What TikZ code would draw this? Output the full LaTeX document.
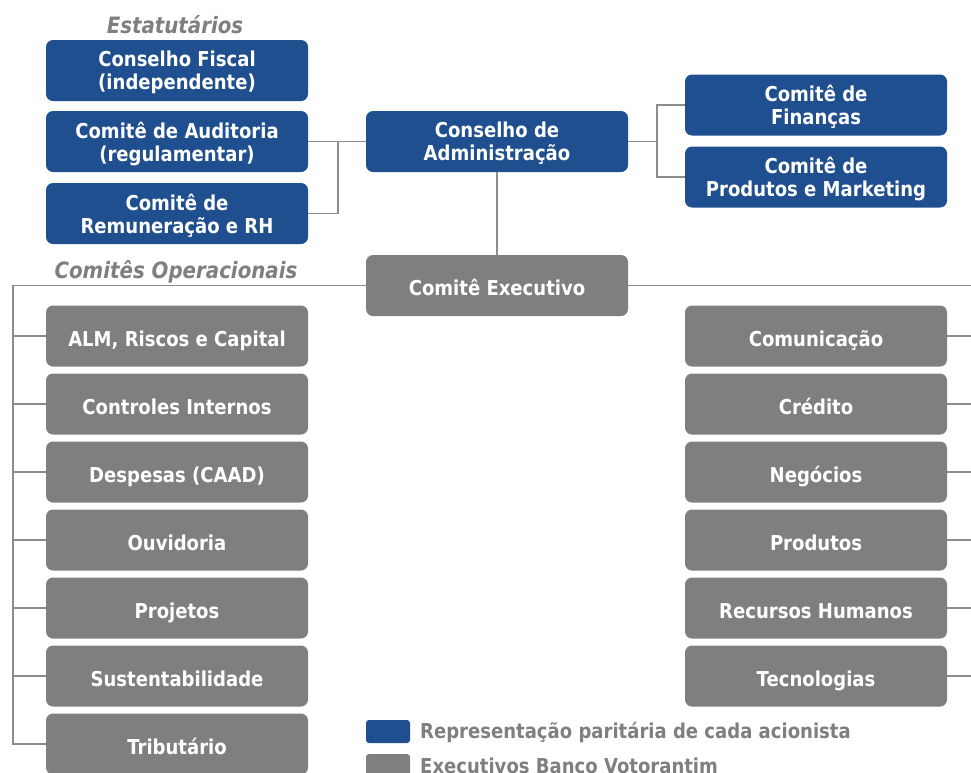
\documentclass[tikz,border=0pt]{standalone}
\usepackage{fontspec}
\setmainfont{DejaVu Sans}[FakeStretch=0.88]
\definecolor{vblue}{RGB}{31,79,142}
\definecolor{vgray}{RGB}{127,127,127}
\definecolor{vline}{RGB}{140,140,140}

\tikzset{
  orgbox/.style = {rectangle, rounded corners = 7pt, minimum width = 262pt, minimum height = 61pt,
                   inner sep = 0pt, text = white, align = center, text depth = 0pt,
                   font = \fontsize{20.5}{23}\selectfont\bfseries},
  bluebox/.style = {orgbox, fill = vblue},
  graybox/.style = {orgbox, fill = vgray, text height = 20pt},
  keybox/.style = {rectangle, rounded corners = 3pt, minimum width = 44pt, minimum height = 23pt, inner sep = 0pt},
  grouptitle/.style = {text = vgray, font = \fontsize{22.5}{26}\selectfont\bfseries\itshape},
  keytext/.style = {text = vgray, anchor = west, inner sep = 0pt, font = \fontsize{20.5}{23}\selectfont\bfseries},
  link/.style = {draw = vline, line width = 1.2pt}
}

\begin{document}
\begin{tikzpicture}[x = 1pt, y = -1pt]
	 \useasboundingbox (0, 0) rectangle (971, 772);

	 % estatutarios
	 \node[grouptitle] (tstat) at (175, 25) {Estatutários};
	 \node[bluebox] (fiscal) at (177, 70.5) {Conselho Fiscal\\(independente)};
	 \node[bluebox] (audit) at (177, 141.5) {Comitê de Auditoria\\(regulamentar)};
	 \node[bluebox] (remun) at (177, 213.5) {Comitê de\\Remuneração e RH};

	 \node[bluebox] (conselho) at (497, 141.5) {Conselho de\\Administração};

	 \node[bluebox] (financas) at (816, 105) {Comitê de\\Finanças};
	 \node[bluebox] (prodmkt) at (816, 177) {Comitê de\\Produtos e Marketing};

	 \node[graybox] (exec) at (497, 285.5) {Comitê Executivo};

	 % comites operacionais
	 \node[grouptitle] (toper) at (176, 272) {Comitês Operacionais};
	 \foreach \name [count = \i] in {{ALM, Riscos e Capital}, Controles Internos, Despesas (CAAD),
	                                 Ouvidoria, Projetos, Sustentabilidade, Tributário}
	 \node[graybox] (left\i) at (177, 268 + 68 * \i) {\name};
	 \foreach \name [count = \i] in {Comunicação, Crédito, Negócios, Produtos, Recursos Humanos, Tecnologias}
	 \node[graybox] (right\i) at (816, 268 + 68 * \i) {\name};

	 % ligacoes
	 \coordinate (lbranch) at (338, 141.5);
	 \coordinate (rbranch) at (657, 141.5);
	 \coordinate (lspine) at (13, 285.5);
	 \coordinate (rspine) at (990, 285.5);

	 \draw[link] (audit.east) -- (conselho.west);
	 \draw[link] (remun.east) -| (lbranch);
	 \draw[link] (conselho.east) -- (rbranch);
	 \draw[link] (financas.west) -| (rbranch) |- (prodmkt.west);
	 \draw[link] (conselho.south) -- (exec.north);

	 \draw[link] (exec.west) -- (lspine) |- (left7.west);
	 \foreach \i in {1, ..., 6}
	 \draw[link] (left\i.west) -- (left\i.west -| lspine);
	 \draw[link] (exec.east) -- (rspine) |- (right6.east);
	 \foreach \i in {1, ..., 5}
	 \draw[link] (right\i.east) -- (right\i.east -| rspine);

	 % legenda
	 \node[keybox, fill = vblue] (keyblue) at (388, 731.5) {};
	 \node[keytext] (txtblue) at (420, 732) {Representação paritária de cada acionista};
	 \node[keybox, fill = vgray] (keygray) at (388, 765.5) {};
	 \node[keytext] (txtgray) at (420, 766) {Executivos Banco Votorantim};
\end{tikzpicture}
\end{document}
